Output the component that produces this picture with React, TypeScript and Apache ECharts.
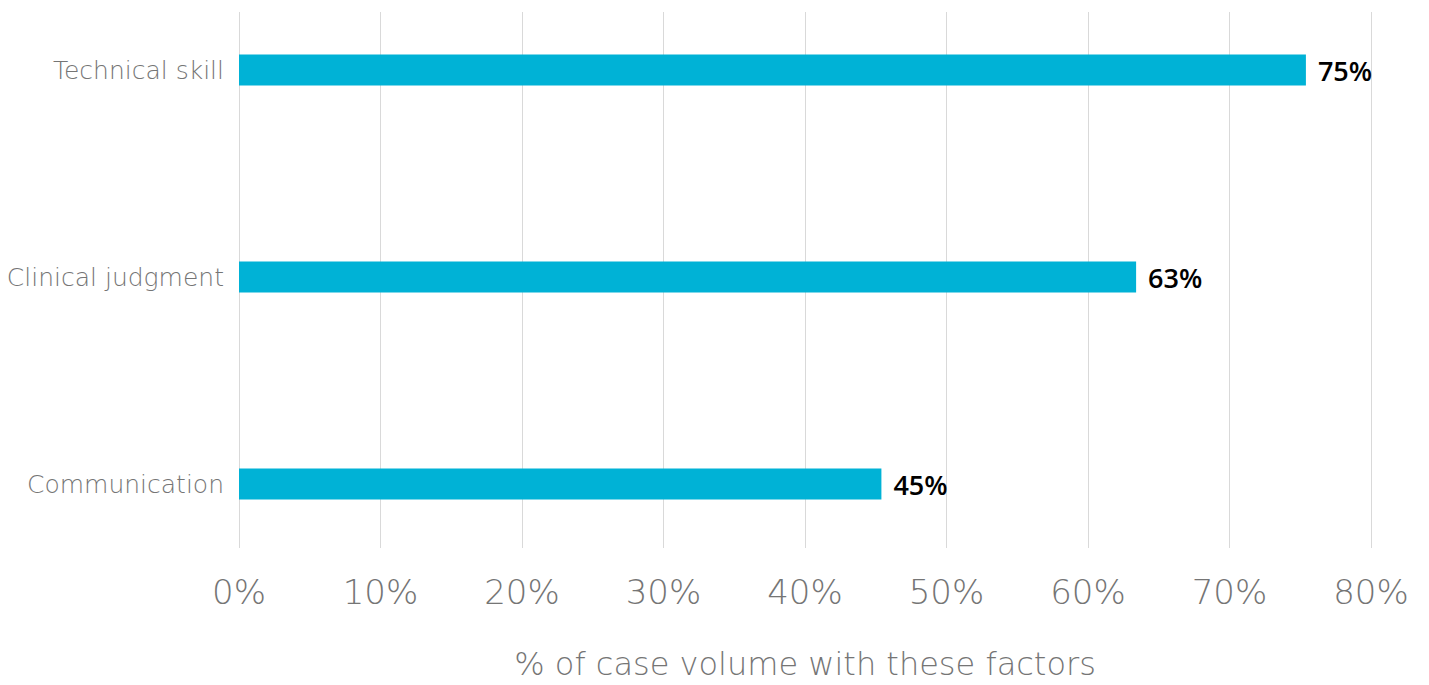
import React, { useEffect, useRef } from "react";
import * as echarts from "echarts";

const categories = ["Technical skill", "Clinical judgment", "Communication"];
const values = [75.4, 63.4, 45.4];
const xTicks = { min: 0, max: 80, interval: 10 };

const LIGHT = "'DejaVu Sans', sans-serif";
const BOLD = "'Open Sans', sans-serif";
const GRAY = "#757575";

export default function App() {
  const ref = useRef<HTMLDivElement>(null);
  useEffect(() => {
    if (!ref.current) return;
    const chart = echarts.init(ref.current, null, { renderer: "svg" });
    chart.setOption({
      animation: false,
      grid: [
        { left: 231, right: 50, top: 54, height: 536, containLabel: false, outerBoundsMode: "none" },
        { left: 231, right: 50, top: 8.5, height: 621, containLabel: false, outerBoundsMode: "none" },
      ],
      xAxis: [
        {
          gridIndex: 0,
          type: "value",
          min: xTicks.min,
          max: xTicks.max,
          interval: xTicks.interval,
          axisLine: { show: false },
          axisTick: { show: false },
          splitLine: { show: true, lineStyle: { color: "#d9d9d9", width: 1 } },
          axisLabel: {
            formatter: "{value}%",
            fontSize: 34,
            fontWeight: 200,
            fontFamily: LIGHT,
            color: GRAY,
            margin: 27,
          },
          name: "% of case volume with these factors",
          nameLocation: "middle",
          nameGap: 100,
          nameTextStyle: { fontSize: 32, fontWeight: 200, fontFamily: LIGHT, color: GRAY },
        },
        {
          gridIndex: 1,
          type: "value",
          min: xTicks.min,
          max: xTicks.max,
          interval: xTicks.interval,
          show: false,
        },
      ],
      yAxis: [
        { gridIndex: 0, type: "value", show: false },
        {
          gridIndex: 1,
          type: "category",
          inverse: true,
          data: categories,
          axisLine: { show: false },
          axisTick: { show: false },
          splitLine: { show: false },
          axisLabel: {
            fontSize: 25,
            fontWeight: 200,
            fontFamily: LIGHT,
            color: GRAY,
            margin: 15,
          },
        },
      ],
      series: [
        {
          type: "bar",
          xAxisIndex: 1,
          yAxisIndex: 1,
          data: values,
          barWidth: 31,
          itemStyle: { color: "#00b2d6" },
          label: {
            show: true,
            position: "right",
            distance: 12,
            formatter: (p: any) => Math.round(p.value) + "%",
            fontSize: 27,
            fontWeight: 600,
            fontFamily: BOLD,
            color: "#000000",
          },
        },
      ],
    });
    return () => chart.dispose();
  }, []);
  return <div ref={ref} style={{ width: 1413, height: 727, marginTop: -50 }} />;
}
